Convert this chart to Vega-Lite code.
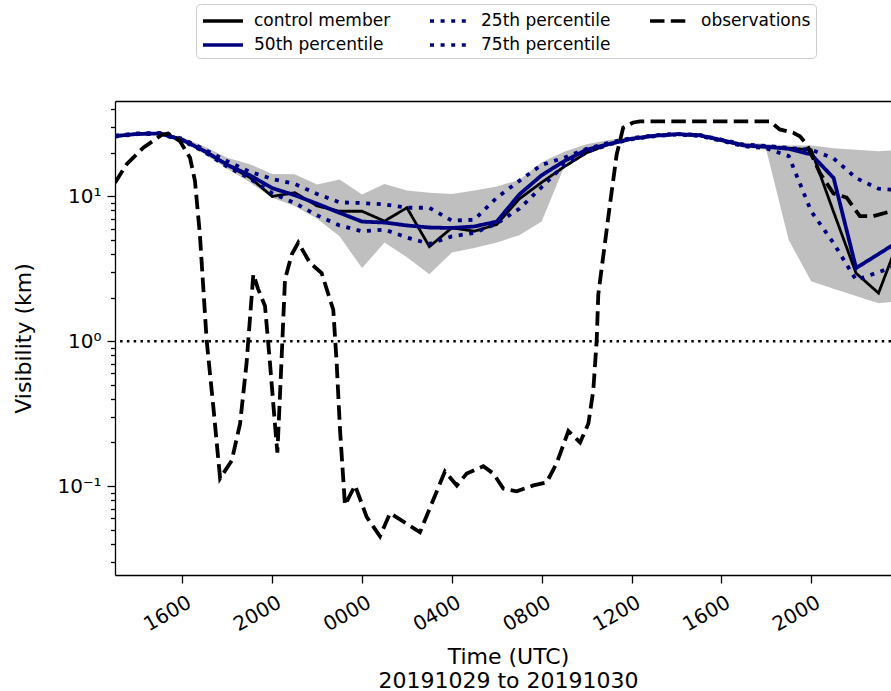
{
  "$schema": "https://vega.github.io/schema/vega-lite/v6.json",
  "autosize": {"type": "none"},
  "padding": {"left": 115, "top": 101, "right": 0, "bottom": 116},
  "width": 776,
  "height": 474,
  "config": {
    "view": {"stroke": null},
    "font": "DejaVu Sans",
    "legend": {
      "orient": "none",
      "legendX": 81,
      "legendY": -97,
      "columns": 3,
      "symbolType": "M-1,0H3",
      "symbolSize": 400,
      "symbolStrokeWidth": 3.7,
      "labelFont": "DejaVu Sans",
      "labelFontSize": 17,
      "labelColor": "black",
      "labelOffset": 29,
      "strokeColor": "#cccccc",
      "fillColor": "white",
      "padding": 5,
      "cornerRadius": 4,
      "columnPadding": 31,
      "rowPadding": 4
    }
  },
  "datasets": {
    "ens": [
      {"t": 13, "control member": 26.0, "50th percentile": 26.1, "25th percentile": 25.9, "75th percentile": 26.3, "lo": 25.6, "hi": 26.6},
      {"t": 14, "control member": 27.0, "50th percentile": 27.0, "25th percentile": 26.9, "75th percentile": 27.2, "lo": 26.6, "hi": 27.5},
      {"t": 15, "control member": 27.3, "50th percentile": 27.2, "25th percentile": 27.0, "75th percentile": 27.4, "lo": 26.8, "hi": 27.7},
      {"t": 16, "control member": 24.8, "50th percentile": 24.5, "25th percentile": 24.3, "75th percentile": 25.0, "lo": 24.0, "hi": 25.6},
      {"t": 17, "control member": 20.5, "50th percentile": 20.5, "25th percentile": 20.2, "75th percentile": 21.0, "lo": 19.5, "hi": 22.0},
      {"t": 18, "control member": 16.5, "50th percentile": 16.5, "25th percentile": 16.0, "75th percentile": 17.5, "lo": 15.5, "hi": 18.5},
      {"t": 19, "control member": 13.5, "50th percentile": 14.0, "25th percentile": 13.3, "75th percentile": 14.8, "lo": 12.5, "hi": 16.7},
      {"t": 20, "control member": 10.0, "50th percentile": 11.4, "25th percentile": 10.5, "75th percentile": 13.2, "lo": 9.8, "hi": 14.3},
      {"t": 21, "control member": 10.6, "50th percentile": 10.2, "25th percentile": 9.0, "75th percentile": 12.2, "lo": 8.6, "hi": 14.2},
      {"t": 22, "control member": 8.6, "50th percentile": 8.9, "25th percentile": 7.4, "75th percentile": 10.4, "lo": 7.0, "hi": 12.1},
      {"t": 23, "control member": 7.9, "50th percentile": 7.7, "25th percentile": 6.3, "75th percentile": 9.1, "lo": 5.3, "hi": 13.1},
      {"t": 24, "control member": 7.9, "50th percentile": 6.7, "25th percentile": 5.75, "75th percentile": 9.0, "lo": 3.2, "hi": 10.3},
      {"t": 25, "control member": 6.75, "50th percentile": 6.6, "25th percentile": 5.9, "75th percentile": 8.8, "lo": 4.8, "hi": 12.2},
      {"t": 26, "control member": 8.35, "50th percentile": 6.3, "25th percentile": 5.2, "75th percentile": 8.35, "lo": 3.8, "hi": 11.0},
      {"t": 27, "control member": 4.5, "50th percentile": 6.1, "25th percentile": 4.7, "75th percentile": 8.35, "lo": 2.9, "hi": 10.6},
      {"t": 28, "control member": 6.07, "50th percentile": 6.05, "25th percentile": 5.3, "75th percentile": 6.8, "lo": 4.1, "hi": 10.4},
      {"t": 29, "control member": 5.75, "50th percentile": 6.2, "25th percentile": 5.6, "75th percentile": 6.9, "lo": 4.4, "hi": 11.0},
      {"t": 30, "control member": 6.4, "50th percentile": 6.7, "25th percentile": 6.5, "75th percentile": 9.8, "lo": 4.8, "hi": 11.7},
      {"t": 31, "control member": 9.6, "50th percentile": 10.3, "25th percentile": 8.2, "75th percentile": 12.8, "lo": 5.4, "hi": 13.0},
      {"t": 32, "control member": 12.5, "50th percentile": 14.0, "25th percentile": 11.6, "75th percentile": 16.5, "lo": 6.7, "hi": 17.2},
      {"t": 33, "control member": 16.0, "50th percentile": 17.5, "25th percentile": 16.5, "75th percentile": 18.5, "lo": 16.0, "hi": 20.3},
      {"t": 34, "control member": 20.0, "50th percentile": 21.0, "25th percentile": 20.3, "75th percentile": 21.3, "lo": 19.5, "hi": 22.9},
      {"t": 35, "control member": 23.0, "50th percentile": 23.0, "25th percentile": 22.8, "75th percentile": 23.5, "lo": 22.3, "hi": 24.5},
      {"t": 36, "control member": 25.0, "50th percentile": 25.0, "25th percentile": 24.8, "75th percentile": 25.3, "lo": 24.3, "hi": 25.8},
      {"t": 37, "control member": 26.2, "50th percentile": 26.2, "25th percentile": 26.0, "75th percentile": 26.4, "lo": 25.6, "hi": 26.9},
      {"t": 38, "control member": 26.8, "50th percentile": 26.9, "25th percentile": 26.7, "75th percentile": 27.0, "lo": 26.3, "hi": 27.5},
      {"t": 39, "control member": 26.3, "50th percentile": 26.5, "25th percentile": 26.2, "75th percentile": 26.6, "lo": 25.8, "hi": 27.0},
      {"t": 40, "control member": 24.3, "50th percentile": 24.5, "25th percentile": 24.2, "75th percentile": 24.7, "lo": 23.8, "hi": 25.2},
      {"t": 41, "control member": 22.5, "50th percentile": 22.5, "25th percentile": 22.2, "75th percentile": 22.8, "lo": 21.8, "hi": 23.5},
      {"t": 42, "control member": 22.0, "50th percentile": 22.0, "25th percentile": 21.5, "75th percentile": 22.3, "lo": 21.0, "hi": 23.0},
      {"t": 43, "control member": 21.5, "50th percentile": 21.3, "25th percentile": 19.0, "75th percentile": 21.6, "lo": 5.0, "hi": 22.5},
      {"t": 44, "control member": 21.0, "50th percentile": 19.5, "25th percentile": 7.9, "75th percentile": 21.0, "lo": 2.6, "hi": 22.5},
      {"t": 45, "control member": 7.8, "50th percentile": 13.4, "25th percentile": 4.75, "75th percentile": 18.3, "lo": 2.3, "hi": 21.5},
      {"t": 46, "control member": 2.95, "50th percentile": 3.2, "25th percentile": 2.65, "75th percentile": 13.4, "lo": 2.05, "hi": 21.0},
      {"t": 47, "control member": 2.15, "50th percentile": 4.0, "25th percentile": 3.0, "75th percentile": 11.3, "lo": 1.83, "hi": 20.5},
      {"t": 48, "control member": 5.5, "50th percentile": 5.0, "25th percentile": 3.4, "75th percentile": 11.0, "lo": 1.9, "hi": 21.0}
    ],
    "obs": [
      {"t": 13.0, "observations": 12.4},
      {"t": 13.52, "observations": 16.7},
      {"t": 14.26, "observations": 21.7},
      {"t": 15.08, "observations": 26.6},
      {"t": 15.37, "observations": 27.2},
      {"t": 15.89, "observations": 24.1},
      {"t": 16.34, "observations": 18.5},
      {"t": 16.56, "observations": 12.8},
      {"t": 16.78, "observations": 5.45},
      {"t": 17.08, "observations": 1.02},
      {"t": 17.38, "observations": 0.35},
      {"t": 17.68, "observations": 0.113},
      {"t": 18.2, "observations": 0.15},
      {"t": 18.57, "observations": 0.27},
      {"t": 18.86, "observations": 0.71},
      {"t": 19.16, "observations": 2.9},
      {"t": 19.37, "observations": 2.3},
      {"t": 19.68, "observations": 1.75},
      {"t": 19.9, "observations": 0.71},
      {"t": 20.12, "observations": 0.27},
      {"t": 20.23, "observations": 0.17},
      {"t": 20.39, "observations": 0.6},
      {"t": 20.57, "observations": 2.67},
      {"t": 20.87, "observations": 3.97},
      {"t": 21.16, "observations": 4.8},
      {"t": 21.68, "observations": 3.48},
      {"t": 22.2, "observations": 2.96},
      {"t": 22.72, "observations": 1.65},
      {"t": 22.87, "observations": 0.71},
      {"t": 23.02, "observations": 0.245},
      {"t": 23.24, "observations": 0.074},
      {"t": 23.69, "observations": 0.101},
      {"t": 24.21, "observations": 0.061},
      {"t": 24.8, "observations": 0.045},
      {"t": 25.25, "observations": 0.065},
      {"t": 25.91, "observations": 0.056},
      {"t": 26.58, "observations": 0.048},
      {"t": 27.69, "observations": 0.126},
      {"t": 28.22, "observations": 0.101},
      {"t": 28.66, "observations": 0.122},
      {"t": 29.4, "observations": 0.137},
      {"t": 29.85, "observations": 0.122},
      {"t": 30.29, "observations": 0.096},
      {"t": 30.89, "observations": 0.092},
      {"t": 31.63, "observations": 0.101},
      {"t": 32.22, "observations": 0.106},
      {"t": 32.67, "observations": 0.144},
      {"t": 33.19, "observations": 0.24},
      {"t": 33.71, "observations": 0.2},
      {"t": 34.08, "observations": 0.27},
      {"t": 34.3, "observations": 0.46},
      {"t": 34.45, "observations": 1.02},
      {"t": 34.52, "observations": 2.1},
      {"t": 35.04, "observations": 8.8},
      {"t": 35.34, "observations": 19.5},
      {"t": 35.63, "observations": 29.9},
      {"t": 36.08, "observations": 32.4},
      {"t": 36.38, "observations": 33.0},
      {"t": 42.17, "observations": 33.0},
      {"t": 42.6, "observations": 29.0},
      {"t": 43.2, "observations": 27.5},
      {"t": 43.5, "observations": 26.0},
      {"t": 43.8, "observations": 22.9},
      {"t": 44.39, "observations": 14.5},
      {"t": 44.99, "observations": 10.5},
      {"t": 45.58, "observations": 9.8},
      {"t": 46.17, "observations": 7.3},
      {"t": 46.77, "observations": 7.3},
      {"t": 47.55, "observations": 7.9},
      {"t": 48.0, "observations": 8.3}
    ]
  },
  "layer": [
    {
      "data": {"name": "ens"},
      "mark": {"type": "area", "color": "#bfbfbf", "opacity": 1, "clip": true},
      "encoding": {
        "x": {
          "field": "t", "type": "quantitative",
          "scale": {"domain": [13, 47.555], "nice": false, "zero": false},
          "axis": {"orient": "top", "labels": false, "ticks": false, "title": null, "grid": false, "domainColor": "black", "domainWidth": 1.3}
        },
        "y": {
          "field": "lo", "type": "quantitative",
          "title": "Visibility (km)",
          "scale": {"type": "log", "domain": [0.02432, 45.57], "nice": false},
          "axis": {
            "values": [0.03, 0.04, 0.05, 0.06, 0.07, 0.08, 0.09, 0.1, 0.2, 0.3, 0.4, 0.5, 0.6, 0.7, 0.8, 0.9, 1, 2, 3, 4, 5, 6, 7, 8, 9, 10, 20, 30, 40],
            "labelExpr": "abs(datum.value-10)<0.001 ? '10¹' : abs(datum.value-1)<0.0001 ? '10⁰' : abs(datum.value-0.1)<0.00001 ? '10⁻¹' : ''",
            "tickSize": {"condition": {"test": "abs(datum.value-10)<0.001 || abs(datum.value-1)<0.0001 || abs(datum.value-0.1)<0.00001", "value": 8}, "value": 4.5},
            "tickWidth": 1.3,
            "tickColor": "black",
            "domainColor": "black",
            "domainWidth": 1.3,
            "labelFontSize": 20,
            "labelColor": "black",
            "labelPadding": 6,
            "labelOverlap": false,
            "labelFlush": false,
            "grid": false,
            "titleFontSize": 22,
            "titleFontWeight": "normal",
            "titleColor": "black",
            "titleX": -92,
            "titleY": 237,
            "titleBaseline": "middle",
            "titleAlign": "center"
          }
        },
        "y2": {"field": "hi"}
      }
    },
    {
      "data": {"values": [{}]},
      "mark": {"type": "rule", "color": "black", "strokeWidth": 2.5, "strokeDash": [2.5, 4.3]},
      "encoding": {"y": {"datum": 1, "type": "quantitative"}}
    },
    {
      "data": {"name": "ens"},
      "transform": [{"fold": ["control member"], "as": ["series", "v"]}],
      "mark": {"type": "line", "strokeWidth": 2.8, "clip": true},
      "encoding": {
        "x": {
          "field": "t", "type": "quantitative",
          "axis": {
            "values": [16, 20, 24, 28, 32, 36, 40, 44, 48],
            "labelExpr": "(datum.value % 24 < 10 ? '0' : '') + (datum.value % 24) + '00'",
            "labelAngle": -30,
            "labelAlign": "right",
            "labelBaseline": "top",
            "labelFontSize": 20,
            "labelColor": "black",
            "labelPadding": 9,
            "labelOffset": 2,
            "labelOverlap": false,
            "labelFlush": false,
            "labelBound": false,
            "tickSize": 8,
            "tickWidth": 1.3,
            "tickColor": "black",
            "domainColor": "black",
            "domainWidth": 1.3,
            "grid": false,
            "title": ["Time (UTC)", "20191029 to 20191030"],
            "titleFontSize": 22,
            "titleFontWeight": "normal",
            "titleColor": "black",
            "titleLineHeight": 24,
            "titleX": 393,
            "titleY": 88,
            "titleBaseline": "alphabetic",
            "titleAlign": "center"
          }
        },
        "y": {"field": "v", "type": "quantitative", "title": "Visibility (km)"},
        "color": {
          "field": "series", "type": "nominal",
          "scale": {"domain": ["control member", "50th percentile", "25th percentile", "75th percentile", "observations"], "range": ["#000000", "#000080", "#000080", "#000080", "#000000"]},
          "legend": {"title": null}
        },
        "strokeDash": {
          "field": "series", "type": "nominal",
          "scale": {"domain": ["control member", "50th percentile", "25th percentile", "75th percentile", "observations"], "range": [[1, 0], [1, 0], [4, 6.6], [4, 6.6], [14.5, 6.3]]},
          "legend": {"title": null}
        }
      }
    },
    {
      "data": {"name": "ens"},
      "transform": [{"fold": ["50th percentile", "25th percentile", "75th percentile"], "as": ["series", "v"]}],
      "mark": {"type": "line", "strokeWidth": 3.8, "clip": true},
      "encoding": {
        "x": {"field": "t", "type": "quantitative", "axis": null},
        "y": {"field": "v", "type": "quantitative", "title": "Visibility (km)"},
        "color": {"field": "series", "type": "nominal", "legend": {"title": null}},
        "strokeDash": {"field": "series", "type": "nominal", "legend": {"title": null}}
      }
    },
    {
      "data": {"name": "obs"},
      "transform": [{"fold": ["observations"], "as": ["series", "v"]}],
      "mark": {"type": "line", "strokeWidth": 3.8, "clip": true},
      "encoding": {
        "x": {"field": "t", "type": "quantitative", "axis": null},
        "y": {"field": "v", "type": "quantitative", "title": "Visibility (km)"},
        "color": {"field": "series", "type": "nominal", "legend": {"title": null}},
        "strokeDash": {"field": "series", "type": "nominal", "legend": {"title": null}}
      }
    }
  ],
  "resolve": {"axis": {"x": "independent"}}
}
